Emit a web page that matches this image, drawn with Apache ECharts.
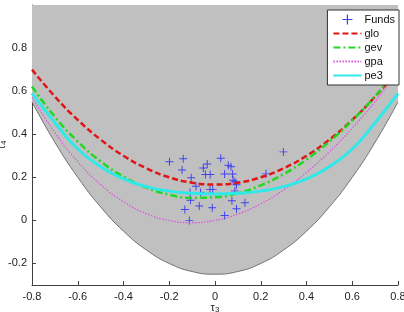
<!DOCTYPE html>
<html><head><meta charset="utf-8">
<script src="https://cdn.jsdelivr.net/npm/echarts@6/dist/echarts.min.js"></script>
<style>html,body{margin:0;padding:0;background:#fff}#c{width:404px;height:312px}</style>
</head><body><div id="c"></div>
<script>
const tau3Grid = [-0.8,-0.7,-0.6,-0.5,-0.4,-0.3,-0.2,-0.1,0,0.1,0.2,0.3,0.4,0.5,0.6,0.7,0.8];
const lowerBound = [0.55,0.3625,0.2,0.0625,-0.05,-0.1375,-0.2,-0.2375,-0.25,-0.2375,-0.2,-0.1375,-0.05,0.0625,0.2,0.3625,0.55];
const glo = [0.7,0.575,0.4667,0.375,0.3,0.2417,0.2,0.175,0.1667,0.175,0.2,0.2417,0.3,0.375,0.4667,0.575,0.7];
const gev = [0.6214,0.4808,0.3661,0.2743,0.2034,0.1521,0.1193,0.1045,0.1070,0.1265,0.1626,0.2148,0.2827,0.3659,0.4638,0.5762,0.7029];
const gpa = [0.5719,0.4073,0.2728,0.1665,0.0866,0.0315,-0.0004,-0.0104,0,0.0296,0.0772,0.1418,0.2224,0.3182,0.4284,0.5522,0.6892];
const pe3 = [0.5894,0.4536,0.3314,0.2494,0.1929,0.1569,0.1359,0.1255,0.1224,0.1255,0.1359,0.1569,0.1929,0.2494,0.3314,0.4536,0.5894];
const fundsT3 = [-0.199,-0.139,-0.144,0.025,-0.034,-0.051,0.058,0.070,-0.104,-0.042,-0.021,0.042,0.077,-0.083,-0.022,-0.010,0.079,0.087,0.094,0.087,-0.109,-0.063,-0.107,0.074,0.131,-0.132,-0.069,-0.012,0.094,0.042,-0.112,0.299,0.223];
const fundsT4 = [0.272,0.286,0.234,0.288,0.262,0.243,0.256,0.249,0.198,0.213,0.213,0.215,0.215,0.158,0.144,0.144,0.186,0.179,0.165,0.137,0.129,0.129,0.093,0.091,0.082,0.051,0.067,0.059,0.054,0.023,0.000,0.318,0.216];
const xTicks = [-0.8,-0.6,-0.4,-0.2,0,0.2,0.4,0.6,0.8];
const yTicks = [-0.2,0,0.2,0.4,0.6,0.8];

const pair = (xs, ys) => xs.map((x, i) => [x, ys[i]]);
const plus = 'path://M0,4.4H10V5.6H0Z M4.4,0H5.6V10H4.4Z';
const font = 'Liberation Sans, Arial, sans-serif';
const axisCol = '#404040';

const chart = echarts.init(document.getElementById('c'), null, {renderer: 'canvas'});
chart.setOption({
  animation: false,
  backgroundColor: '#ffffff',
  grid: {left: 32, right: 6, top: 5, bottom: 27, containLabel: false, outerBoundsMode: 'none'},
  xAxis: {
    type: 'value', min: -0.8, max: 0.8, interval: 0.2,
    axisLine: {show: true, onZero: false, lineStyle: {color: axisCol, width: 1}},
    axisTick: {show: true, inside: true, length: 4, lineStyle: {color: axisCol}},
    axisLabel: {color: '#222', fontSize: 11, fontFamily: font, margin: 6},
    splitLine: {show: false},
    name: '{a|τ}{b|3}', nameLocation: 'middle', nameGap: 16, nameMoveOverlap: false,
    nameTextStyle: {rich: {a: {fontSize: 11, fontFamily: font, color: '#222'}, b: {fontSize: 8, fontFamily: font, color: '#222', padding: [5,0,0,0]}}}
  },
  yAxis: {
    type: 'value', min: -0.3, max: 1.0,
    axisLine: {show: true, onZero: false, lineStyle: {color: axisCol, width: 1}},
    axisTick: {show: true, inside: true, length: 4, lineStyle: {color: axisCol}, customValues: yTicks},
    axisLabel: {color: '#222', fontSize: 11, fontFamily: font, margin: 5, customValues: yTicks},
    splitLine: {show: false},
    name: '{a|τ}{b|4}', nameLocation: 'middle', nameGap: 24, nameRotate: 90, nameMoveOverlap: false,
    nameTextStyle: {rich: {a: {fontSize: 11, fontFamily: font, color: '#222'}, b: {fontSize: 8, fontFamily: font, color: '#222', padding: [5,0,0,0]}}}
  },
  legend: {
    orient: 'vertical', right: 5, top: 10,
    backgroundColor: '#ffffff', borderColor: '#333', borderWidth: 1,
    padding: [4, 4, 4, 5], itemWidth: 28, itemHeight: 10, itemGap: 3,
    itemStyle: {opacity: 0},
    textStyle: {fontSize: 11, fontFamily: font, color: '#111', padding: [0,0,0,-2]},
    data: [{name: 'Funds', icon: plus, itemStyle: {opacity: 1}}, 'glo', 'gev', 'gpa', 'pe3']
  },
  series: [
    {
      name: 'bound', type: 'line', data: pair(tau3Grid, lowerBound), smooth: true,
      symbol: 'none', lineStyle: {color: '#585858', width: 0.8},
      areaStyle: {color: '#c0c0c0', opacity: 1, origin: 'end'}, z: 1, silent: true
    },
    {
      name: 'Funds', type: 'scatter', data: pair(fundsT3, fundsT4),
      symbol: plus, symbolSize: 8, itemStyle: {color: '#4040f0', opacity: 1}, z: 2
    },
    {name: 'glo', type: 'line', data: pair(tau3Grid, glo), smooth: true, symbol: 'none', z: 3,
     itemStyle: {color: '#e01515'}, lineStyle: {color: '#e01515', width: 2.5, type: [6, 3]}},
    {name: 'gev', type: 'line', data: pair(tau3Grid, gev), smooth: true, symbol: 'none', z: 3,
     itemStyle: {color: '#22d822'}, lineStyle: {color: '#22d822', width: 2.5, type: [7, 3, 2, 3]}},
    {name: 'gpa', type: 'line', data: pair(tau3Grid, gpa), smooth: true, symbol: 'none', z: 3,
     itemStyle: {color: '#e050e0'}, lineStyle: {color: '#e050e0', width: 1.2, type: [1.5, 1.5]}},
    {name: 'pe3', type: 'line', data: pair(tau3Grid, pe3), smooth: true, symbol: 'none', z: 3,
     itemStyle: {color: '#30e8e8'}, lineStyle: {color: '#30e8e8', width: 3}}
  ]
});
</script></body></html>
